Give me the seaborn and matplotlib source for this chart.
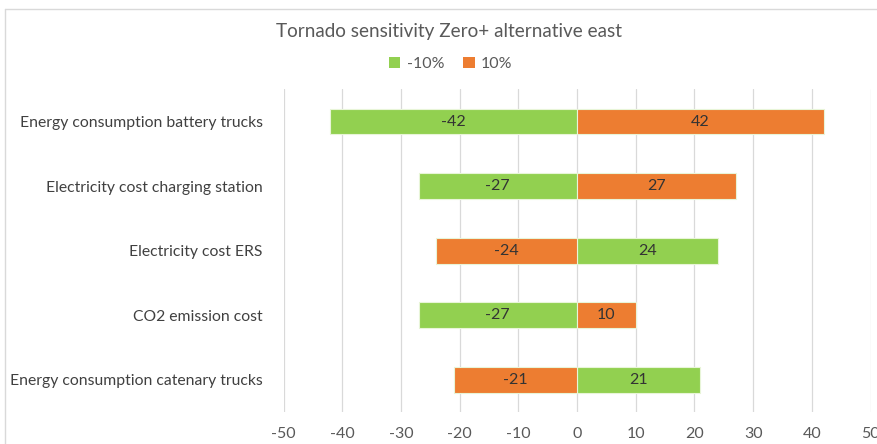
import matplotlib
matplotlib.use("Agg")
import matplotlib.pyplot as plt
import seaborn as sns
import pandas as pd
from matplotlib.lines import Line2D
from matplotlib.patches import Patch

categories = [
    "Energy consumption battery trucks",
    "Electricity cost charging station",
    "Electricity cost ERS",
    "CO2 emission cost",
    "Energy consumption catenary trucks",
]
series_names = ["-10%", "10%"]
minus10 = [-42, -27, 24, -27, 21]
plus10 = [42, 27, -24, 10, -21]
x_ticks = [-50, -40, -30, -20, -10, 0, 10, 20, 30, 40, 50]
title = "Tornado sensitivity Zero+ alternative east"

colors = {"-10%": "#92D050", "10%": "#ED7D31"}

df = pd.DataFrame({
    "category": categories * 2,
    "series": [series_names[0]] * len(categories) + [series_names[1]] * len(categories),
    "value": minus10 + plus10,
})

sns.set_theme(style="white")
plt.rcParams["font.family"] = ["Lato", "DejaVu Sans"]

fig = plt.figure(figsize=(8.77, 4.44), dpi=100)
ax = fig.add_axes([0.3233, 0.072, 0.6693, 0.727])

sns.barplot(data=df, y="category", x="value", hue="series", order=categories,
            hue_order=series_names, palette=colors, dodge=False, orient="h",
            width=0.4, saturation=1, edgecolor="#E8F5D8", linewidth=0.8, ax=ax,
            legend=False)

for p in ax.patches:
    w = p.get_width()
    if abs(w) < 1e-9:
        continue
    ax.text(p.get_x() + w / 2, p.get_y() + p.get_height() / 2, f"{w:.0f}",
            ha="center", va="center", fontsize=11.5, color="#333333")

ax.set_xlim(-50, 50)
ax.set_ylim(4.5, -0.5)
ax.set_xticks(x_ticks)
ax.set_xticklabels([str(t) for t in x_ticks], fontsize=11.5, color="#595959")
ax.tick_params(axis="x", length=0, pad=11)
ax.tick_params(axis="y", length=0, pad=15, labelsize=11.3, labelcolor="#404040")
ax.set_xlabel("")
ax.set_ylabel("")
ax.grid(axis="x", color="#D9D9D9", linewidth=0.9)
ax.set_axisbelow(True)
for s in ax.spines.values():
    s.set_visible(False)

fig.text(0.512, 0.93, title, ha="center", va="center", fontsize=13.6, color="#595959")
handles = [Patch(facecolor=colors[s], edgecolor="none") for s in series_names]
fig.legend(handles, series_names, loc="center", bbox_to_anchor=(0.514, 0.855), ncol=2,
           frameon=False, fontsize=11.5, handlelength=0.7, handleheight=0.7,
           handletextpad=0.4, columnspacing=1.2, labelcolor="#595959")

# chart area border (top and left edges visible)
fig.add_artist(Line2D([5 / 877, 1.0], [1 - 9 / 444, 1 - 9 / 444], transform=fig.transFigure,
                      color="#D9D9D9", linewidth=1))
fig.add_artist(Line2D([5 / 877, 5 / 877], [0, 1 - 9 / 444], transform=fig.transFigure,
                      color="#D9D9D9", linewidth=1))

fig.savefig("out.png", dpi=100)
